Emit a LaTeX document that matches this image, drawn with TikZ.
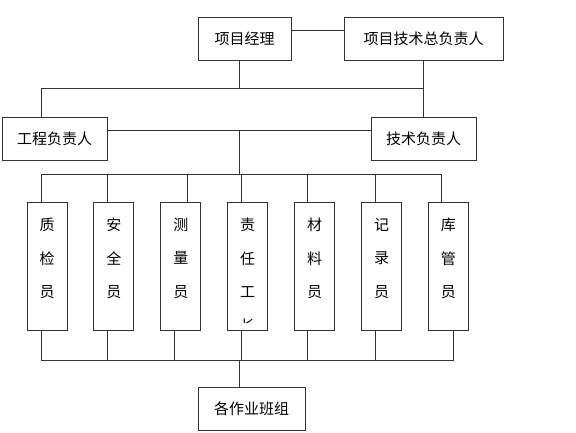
\documentclass[tikz,border=0pt]{standalone}
\usepackage{fontspec}
\setmainfont{Noto Sans CJK SC}
\usetikzlibrary{positioning}

% vertical text in the tall boxes, hung from the top
\newcommand{\coltext}[1]{\parbox[c][128pt][t]{20pt}{\vspace*{16pt}\centering #1}}

\begin{document}
\begin{tikzpicture}[
    x=1pt, y=-1pt,
    node distance=26pt,
    font=\fontsize{15}{33.5}\selectfont,
    line/.style={draw=black!80, line width=0.9pt},
    box/.style={rectangle, line, minimum height=43pt, inner sep=0pt},
    post/.style={rectangle, line, minimum width=40pt, minimum height=128pt, inner sep=0pt}
]
\useasboundingbox (0,0) rectangle (576,432);

\node[box, minimum width=93pt] (pm) at (244.5,38.5) {项目经理};
\node[box, minimum width=159pt] (chief) at (423.5,38.5) {项目技术总负责人};
\node[box, minimum width=105pt] (eng) at (54.5,138.5) {工程负责人};
\node[box, minimum width=105pt] (tech) at (423.5,138.5) {技术负责人};

\node[post] (qc) at (47,266) {\coltext{质\\检\\员}};
\node[post, right=of qc] (safety) {\coltext{安\\全\\员}};
\node[post, right=of safety] (survey) {\coltext{测\\量\\员}};
\node[post, right=of survey] (duty) {\coltext{责\\任\\工}};
\node[post, right=of duty] (material) {\coltext{材\\料\\员}};
\node[post, right=of material] (record) {\coltext{记\\录\\员}};
\node[post, right=of record] (store) {\coltext{库\\管\\员}};

\node[box, minimum width=107pt] (team) at (251.5,409) {各作业班组};

% last character of duty, cut off by the box
\begin{scope}
  \clip (duty.north west) rectangle ([yshift=8pt]duty.south east);
  \node (duty4) at ([yshift=4.5pt]duty.south) {长};
\end{scope}

\coordinate (bus1) at (239,88);
\coordinate (mid) at (239,130);
\coordinate (bus3) at (239,174);
\coordinate (bus4) at (239,360);

\draw[line] ([yshift=8.5pt]pm.east) -- ([yshift=8.5pt]chief.west);
\draw[line] ([xshift=-5.5pt]pm.south) -- (bus1);
\draw[line] (chief.south) -- (tech.north);
\draw[line] ([xshift=-13.5pt]eng.north) |- (bus1);
\draw[line] (tech.north) |- (bus1);
\draw[line] ([yshift=8.5pt]eng.east) -- ([yshift=8.5pt]tech.west);
\draw[line] (mid) -- (bus3);

\foreach \n/\dx in {qc/-6, safety/-6.5, survey/7, duty/-6.5, material/-7.5, record/-6.5, store/-6.5}
  \draw[line] ([xshift=\dx pt]\n.north) |- (bus3);
\foreach \n/\dx in {qc/-6, safety/-6.5, survey/-6, duty/-6.5, material/-7.5, record/-6.5, store/5.5}
  \draw[line] ([xshift=\dx pt]\n.south) |- (bus4);
\draw[line] (bus4) -- ([xshift=-12.5pt]team.north);
\end{tikzpicture}
\end{document}
